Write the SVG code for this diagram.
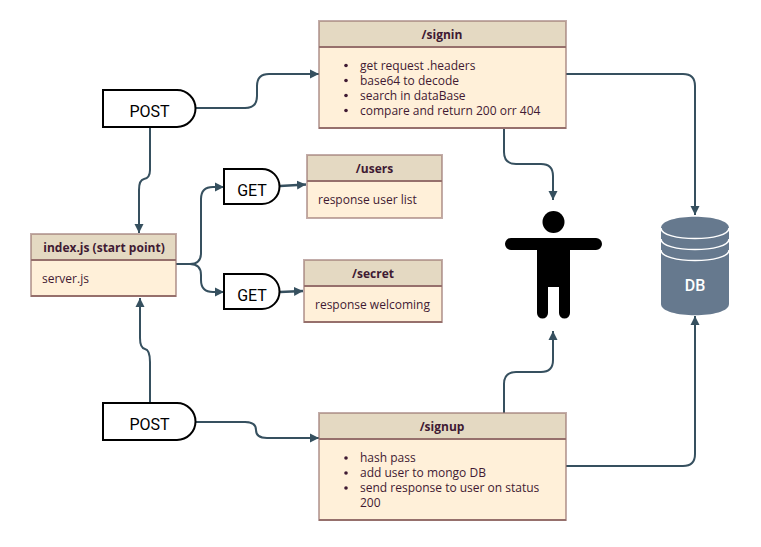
<svg xmlns="http://www.w3.org/2000/svg" width="761" height="547" viewBox="0 0 761 547">
<style>
.body{fill:#FFF0D9;stroke:none}
.head{fill:#E4D9C2;stroke:none}
.edge{fill:none;stroke:#9A7470;stroke-width:2;opacity:.6}
.rule{fill:none;stroke:#96706C;stroke-width:2}
.tt{font:700 12px "Open Sans",sans-serif;fill:#3F1A33;text-anchor:middle}
.tx{font:400 12px "Open Sans",sans-serif;fill:#3F1A33}
.gate{fill:#fff;stroke:#000;stroke-width:2}
.gl{font:400 16px Roboto,sans-serif;fill:#000;text-anchor:middle}
.c{fill:none;stroke:#36505F;stroke-width:2;marker-end:url(#a)}
.t{stroke-width:2.600}
.dot{fill:#3F1A33}
</style>
<defs>
<marker id="a" markerUnits="userSpaceOnUse" markerWidth="10" markerHeight="10" refX="9" refY="5" orient="auto"><path d="M0 .5L9 5L0 9.500Z" fill="#36505F"/></marker>
</defs>
<rect width="761" height="547" fill="#fff"/>
<g id="connectors">
<path class="c" d="M196 108H245Q257 108 257 96V86Q257 74 269 74H319"/>
<path class="c" d="M150 127V170Q150 178 144 179Q139 180 139 190V233"/>
<path class="c" d="M176 264H190Q201 264 201 253V199Q201 187 213 187H224"/>
<path class="c" d="M176 264H190Q201 264 201 275V280Q201 292 213 292H224"/>
<path class="c t" d="M280 186L306 184.500"/>
<path class="c t" d="M280 292L303 291"/>
<path class="c" d="M566 74H683Q695 74 695 86V215"/>
<path class="c" d="M504 128V152Q504 164 516 164H541Q553 164 553 176V200"/>
<path class="c" d="M504 413V384Q504 372 516 372H541Q553 372 553 360V331"/>
<path class="c" d="M566 466H683Q695 466 695 454V316"/>
<path class="c" d="M150 403V362Q150 350 145 349Q140 348 140 338V298"/>
<path class="c" d="M196 422H245Q256 422 256 430Q256 438 267 438H319"/>
</g>
<g id="signin">
<rect class="body" x="319" y="47" width="247" height="81"/><rect class="head" x="319" y="21" width="247" height="26"/>
<rect class="edge" x="319" y="21" width="247" height="107"/>
<path class="rule" d="M319 47H566M319 128H566"/>
<text class="tt" x="442" y="39">/signin</text>
<circle class="dot" cx="346" cy="65.500" r="1.800"/><circle class="dot" cx="346" cy="80.500" r="1.800"/><circle class="dot" cx="346" cy="95.500" r="1.800"/><circle class="dot" cx="346" cy="110.500" r="1.800"/>
<text class="tx" x="360" y="70">get request .headers</text>
<text class="tx" x="360" y="85">base64 to decode</text>
<text class="tx" x="360" y="100">search in dataBase</text>
<text class="tx" x="360" y="115">compare and return 200 orr 404</text>
</g>
<g id="index">
<rect class="body" x="31" y="260" width="145" height="36"/><rect class="head" x="31" y="234" width="145" height="26"/>
<rect class="edge" x="31" y="234" width="145" height="62"/>
<path class="rule" d="M31 260H176M31 296H176"/>
<text class="tt" x="104" y="252">index.js (start point)</text>
<text class="tx" x="42" y="283">server.js</text>
</g>
<g id="users">
<rect class="body" x="307" y="181" width="135" height="37"/><rect class="head" x="307" y="155" width="135" height="26"/>
<rect class="edge" x="307" y="155" width="135" height="63"/>
<path class="rule" d="M307 181H442"/>
<text class="tt" x="374.500" y="173">/users</text>
<text class="tx" x="318" y="204">response user list</text>
</g>
<g id="secret">
<rect class="body" x="304" y="286" width="138" height="36"/><rect class="head" x="304" y="260" width="138" height="26"/>
<rect class="edge" x="304" y="260" width="138" height="62"/>
<path class="rule" d="M304 286H442M304 322H442"/>
<text class="tt" x="373" y="278">/secret</text>
<text class="tx" x="315" y="309">response welcoming</text>
</g>
<g id="signup">
<rect class="body" x="319" y="439" width="247" height="81"/><rect class="head" x="319" y="413" width="247" height="26"/>
<rect class="edge" x="319" y="413" width="247" height="107"/>
<path class="rule" d="M319 439H566M319 520H566"/>
<text class="tt" x="442" y="431">/signup</text>
<circle class="dot" cx="346" cy="458" r="1.800"/><circle class="dot" cx="346" cy="473" r="1.800"/><circle class="dot" cx="346" cy="488" r="1.800"/>
<text class="tx" x="360" y="462">hash pass</text>
<text class="tx" x="360" y="477">add user to mongo DB</text>
<text class="tx" x="360" y="492">send response to user on status</text>
<text class="tx" x="360" y="507">200</text>
</g>
<g id="post1"><path class="gate" d="M103 90H177A18.500 18.500 0 0 1 177 127H103Z"/><text class="gl" x="149.500" y="117">POST</text></g>
<g id="post2"><path class="gate" d="M103 403H177A18.500 18.500 0 0 1 177 440H103Z"/><text class="gl" x="149.500" y="430">POST</text></g>
<g id="get1"><path class="gate" d="M224 169H262A17.500 17.500 0 0 1 262 204H224Z"/><text class="gl" x="252" y="196">GET</text></g>
<g id="get2"><path class="gate" d="M224 274H262A17.500 17.500 0 0 1 262 309H224Z"/><text class="gl" x="252" y="301">GET</text></g>
<g id="person">
<circle cx="553.500" cy="222" r="11"/>
<path d="M511 238H596A6 6 0 0 1 596 250H570V313A5.500 5.500 0 0 1 559 313V287H548V313A5.500 5.500 0 0 1 537 313V250H511A6 6 0 0 1 511 238Z"/>
</g>
<g id="db">
<path d="M661 228C661 213 729 213 729 228V304C729 319 661 319 661 304Z" fill="#66798E"/>
<path d="M661 228C661 242 729 242 729 228M661 239C661 253 729 253 729 239M661 250C661 264 729 264 729 250" fill="none" stroke="#fff" stroke-width="1.500"/>
<text x="695" y="291" font-family="Roboto,sans-serif" font-size="16" font-weight="500" fill="#fff" text-anchor="middle">DB</text>
</g>
</svg>
